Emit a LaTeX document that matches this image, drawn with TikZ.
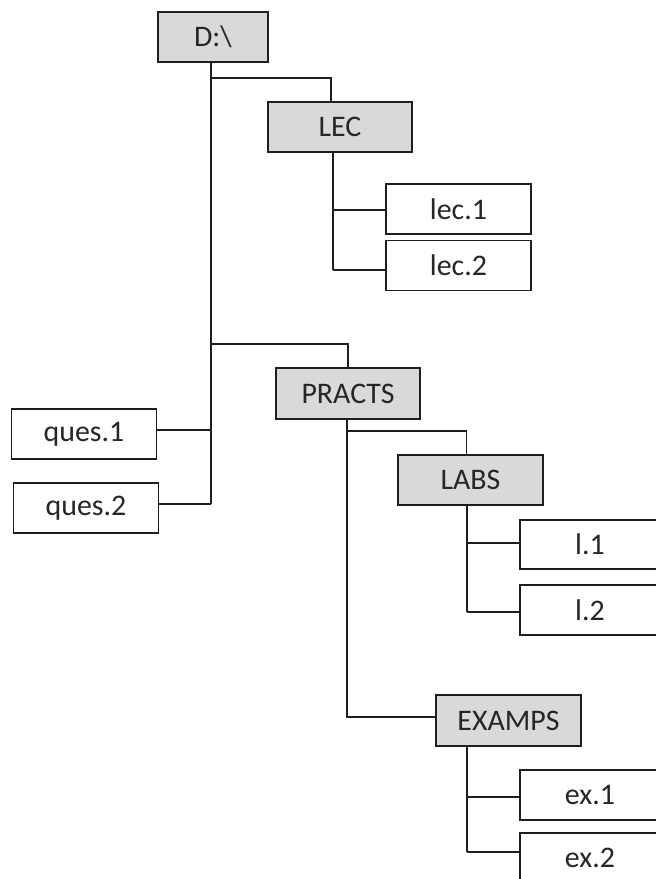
\documentclass[tikz,border=0pt]{standalone}
\usepackage{fontspec}
\setmainfont{Carlito}
\definecolor{dirfill}{RGB}{217,217,217}
\definecolor{ink}{RGB}{30,30,30}
\definecolor{txt}{RGB}{38,38,38}
\begin{document}
\begin{tikzpicture}[x=1bp,y=-1bp,
  filebox/.style={draw=ink, line width=1.6bp, minimum height=50bp, inner sep=0pt,
    font=\fontsize{30}{34}\selectfont, text=txt, fill=white},
  dirbox/.style={filebox, fill=dirfill},
  conn/.style={draw=ink, line width=1.6bp}]
\useasboundingbox (0,0) rectangle (656,879);
\clip (0,0) rectangle (656,879);
\fill[white] (0,0) rectangle (656,879);

% nodes
\node[dirbox, minimum width=110bp] (D) at (213,37) {D:\textbackslash};
\node[dirbox, minimum width=144bp] (LEC) at (340,127) {LEC};
\node[filebox, minimum width=145bp] (lec1) at (458.5,209) {lec.1};
\node[filebox, minimum width=145bp] (lec2) at (458.5,265.5) {lec.2};
\node[dirbox, minimum width=144bp, minimum height=51bp] (PRACTS) at (348,393.5) {PRACTS};
\node[filebox, minimum width=145bp] (ques1) at (84,434) {ques.1};
\node[filebox, minimum width=145bp] (ques2) at (86,508) {ques.2};
\node[dirbox, minimum width=145bp] (LABS) at (470.5,480) {LABS};
\node[filebox, minimum width=140bp, minimum height=49bp] (l1) at (590,544.5) {l.1};
\node[filebox, minimum width=140bp] (l2) at (590,610) {l.2};
\node[dirbox, minimum width=145bp, minimum height=51bp] (EXAMPS) at (508.5,720.5) {EXAMPS};
\node[filebox, minimum width=140bp] (ex1) at (590,795) {ex.1};
\node[filebox, minimum width=140bp] (ex2) at (590,858) {ex.2};

% D:\ trunk
\coordinate (b1) at (211,78);
\coordinate (b2) at (211,344);
\coordinate (b3) at (211,430);
\coordinate (b4) at (211,504);
\draw[conn] (D.south -| b1) -- (b4);
\draw[conn] (b1) -| ([xshift=-9bp]LEC.north);
\draw[conn] (b2) -| (PRACTS.north);
\draw[conn] (b3) -- (b3 -| ques1.east);
\draw[conn] (b4) -- (b4 -| ques2.east);

% LEC trunk
\coordinate (c1) at (333,210);
\coordinate (c2) at (333,270);
\draw[conn] (LEC.south -| c1) -- (c2);
\draw[conn] (c1) -- (c1 -| lec1.west);
\draw[conn] (c2) -- (c2 -| lec2.west);

% PRACTS trunk
\coordinate (p1) at (347,431);
\coordinate (p2) at (347,717);
\draw[conn] (PRACTS.south -| p1) -- (p2) -- (p2 -| EXAMPS.west);
\draw[conn] (p1) -| ([xshift=-4bp]LABS.north);

% LABS trunk
\coordinate (la1) at (467,543);
\coordinate (la2) at (467,612);
\draw[conn] (LABS.south -| la1) -- (la2);
\draw[conn] (la1) -- (la1 -| l1.west);
\draw[conn] (la2) -- (la2 -| l2.west);

% EXAMPS trunk
\coordinate (e1) at (467,797);
\coordinate (e2) at (467,852);
\draw[conn] (EXAMPS.south -| e1) -- (e2);
\draw[conn] (e1) -- (e1 -| ex1.west);
\draw[conn] (e2) -- (e2 -| ex2.west);
\end{tikzpicture}
\end{document}
